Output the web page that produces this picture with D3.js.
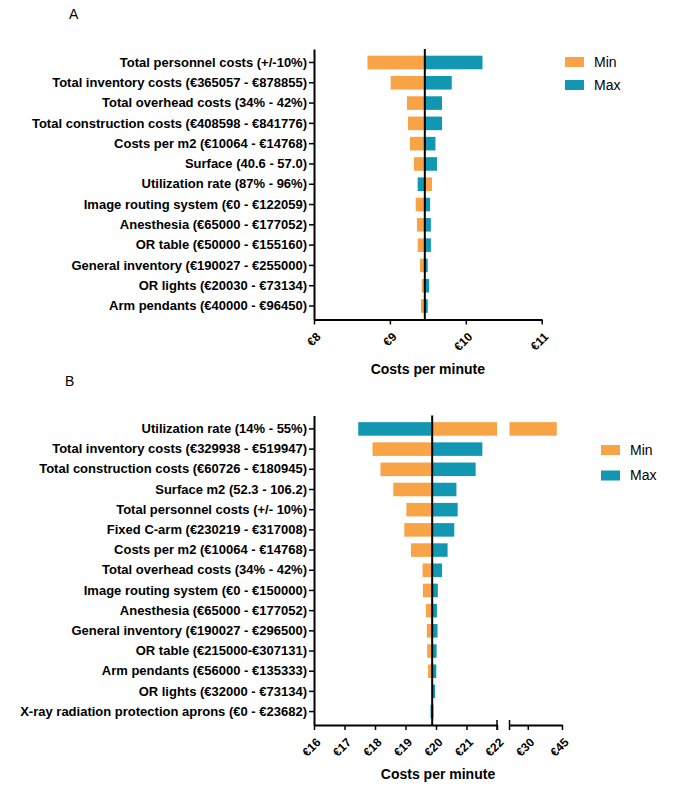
<!DOCTYPE html>
<html lang="en">
<head>
    <meta charset="UTF-8">
    <title>Tornado</title>
    <script src="https://cdn.jsdelivr.net/npm/d3@7"></script>
    <style>
        body{ margin:0; background:#fff; }
        svg{ font-family: "Liberation Sans", Arial, sans-serif; }
        .rowlab{ font-size:13px; font-weight:bold; }
        .ticklab{ font-size:12px; font-weight:bold; }
        .axtitle{ font-size:14px; font-weight:bold; }
        .leg{ font-size:14px; }
    </style>
</head>
<body>
<svg id="main-svg" width="677" height="788"></svg>
<script>
    // ---- data, panel A ----
    const labelsA = [
        'Total personnel costs (+/-10%)',
        'Total inventory costs (€365057 - €878855)',
        'Total overhead costs (34% - 42%)',
        'Total construction costs (€408598 - €841776)',
        'Costs per m2 (€10064 - €14768)',
        'Surface (40.6 - 57.0)',
        'Utilization rate (87% - 96%)',
        'Image routing system (€0 - €122059)',
        'Anesthesia (€65000 - €177052)',
        'OR table (€50000 - €155160)',
        'General inventory (€190027 - €255000)',
        'OR lights (€20030 - €73134)',
        'Arm pendants (€40000 - €96450)'
    ];
    const minA = [8.705, 9.01, 9.225, 9.238, 9.264, 9.317, 9.555, 9.34, 9.357, 9.366, 9.396, 9.42, 9.41];
    const maxA = [10.22, 9.815, 9.687, 9.687, 9.60, 9.62, 9.366, 9.53, 9.54, 9.54, 9.498, 9.515, 9.498];
    const baseA = 9.46;
    const ticksA = [8, 9, 10, 11];

    // ---- data, panel B ----
    const labelsB = [
        'Utilization rate (14% - 55%)',
        'Total inventory costs (€329938 - €519947)',
        'Total construction costs (€60726 - €180945)',
        'Surface m2 (52.3 - 106.2)',
        'Total personnel costs (+/- 10%)',
        'Fixed C-arm (€230219 - €317008)',
        'Costs per m2 (€10064 - €14768)',
        'Total overhead costs (34% - 42%)',
        'Image routing system (€0 - €150000)',
        'Anesthesia (€65000 - €177052)',
        'General inventory (€190027 - €296500)',
        'OR table (€215000-€307131)',
        'Arm pendants (€56000 - €135333)',
        'OR lights (€32000 - €73134)',
        'X-ray radiation protection aprons (€0 - €23682)'
    ];
    const minB = [42.7, 17.92, 18.18, 18.6, 19.03, 18.96, 19.18, 19.56, 19.57, 19.67, 19.70, 19.71, 19.74, 19.86, 19.93];
    const maxB = [17.45, 21.52, 21.30, 20.67, 20.71, 20.60, 20.38, 20.20, 20.06, 20.03, 20.05, 20.02, 20.01, 19.97, 19.82];
    const baseB = 19.875;
    const ticksB1 = [16, 17, 18, 19, 20, 21, 22];
    const ticksB2 = [30, 45];

    const seriesNames = ['Min', 'Max'];
    const colors = {Min: '#F7A346', Max: '#1197B1'};

    const svg = d3.select('#main-svg');
    const left = 314;

    // draws bars between base and value, splitting over axis break if needed
    let drawBar = (g, segs, y, row, base, v, color) => {
        segs.forEach(s => {
            let d = s.domain();
            let a = Math.max(Math.min(base, v), d[0]);
            let b = Math.min(Math.max(base, v), d[1]);
            if(b <= a) return;
            g.append('rect')
                .attr('x', s(a))
                .attr('y', y(row))
                .attr('width', s(b) - s(a))
                .attr('height', y.bandwidth())
                .style('fill', color);
        });
    };

    let drawPanel = (cfg) => {
        const g = svg.append('g');
        const y = d3.scaleBand()
            .domain(cfg.labels)
            .range([cfg.top, cfg.bottom])
            .paddingInner(0.33)
            .paddingOuter(0.33);

        cfg.labels.forEach((lab, i) => {
            drawBar(g, cfg.segs, y, lab, cfg.base, cfg.mins[i], colors.Min);
            drawBar(g, cfg.segs, y, lab, cfg.base, cfg.maxs[i], colors.Max);
        });

        // baseline
        g.append('line')
            .attr('x1', cfg.segs[0](cfg.base)).attr('x2', cfg.segs[0](cfg.base))
            .attr('y1', cfg.top).attr('y2', cfg.bottom)
            .style('stroke', '#000').style('stroke-width', 2);

        // y axis
        const yAx = g.append('g')
            .attr('transform', 'translate(' + left + ',0)')
            .call(d3.axisLeft(y).tickSize(5).tickPadding(2).tickSizeOuter(0));
        yAx.select('.domain').style('stroke-width', 2);
        yAx.selectAll('.tick line').style('stroke-width', 1.5);
        yAx.selectAll('text').attr('class', 'rowlab').attr('fill', '#000');

        // x axis, one piece per segment
        cfg.segs.forEach((s, k) => {
            const ax = g.append('g')
                .attr('transform', 'translate(0,' + cfg.bottom + ')')
                .call(d3.axisBottom(s).tickValues(cfg.ticks[k]).tickSize(5).tickSizeOuter(0)
                    .tickFormat(d => '€' + d));
            ax.select('.domain').style('stroke-width', 2);
            ax.selectAll('.tick line').style('stroke-width', 1.5);
            ax.selectAll('text')
                .attr('class', 'ticklab')
                .attr('fill', '#000')
                .attr('text-anchor', 'end')
                .attr('x', 0).attr('y', 0).attr('dy', '0.35em')
                .attr('transform', 'translate(4,15) rotate(-45)');
        });
        // break marks
        if(cfg.segs.length > 1){
            [cfg.segs[0].range()[1], cfg.segs[1].range()[0]].forEach(bx => {
                g.append('line')
                    .attr('x1', bx).attr('x2', bx)
                    .attr('y1', cfg.bottom - 5).attr('y2', cfg.bottom + 5)
                    .style('stroke', '#000').style('stroke-width', 1.5);
            });
        }

        const r0 = cfg.segs[0].range()[0], r1 = cfg.segs[cfg.segs.length - 1].range()[1];
        g.append('text')
            .attr('class', 'axtitle')
            .attr('x', (r0 + r1) / 2).attr('y', cfg.bottom + 54)
            .attr('text-anchor', 'middle')
            .text('Costs per minute');

        g.append('text')
            .attr('x', cfg.titleX).attr('y', cfg.titleY)
            .style('font-size', '14px')
            .text(cfg.title);

        // legend
        seriesNames.forEach((n, i) => {
            let cy = cfg.legY + i * cfg.legGap;
            g.append('rect')
                .attr('x', cfg.legX).attr('y', cy - 5)
                .attr('width', 19).attr('height', 10)
                .style('fill', colors[n]);
            g.append('text')
                .attr('class', 'leg')
                .attr('x', cfg.legX + 29).attr('y', cy)
                .attr('dy', '0.35em')
                .text(n);
        });
    };

    drawPanel({
        labels: labelsA, mins: minA, maxs: maxA, base: baseA,
        top: 49, bottom: 319.5,
        segs: [d3.scaleLinear().domain([8, 11]).range([left, 541.7])],
        ticks: [ticksA],
        title: 'A', titleX: 69, titleY: 19,
        legX: 565, legY: 62, legGap: 23
    });

    drawPanel({
        labels: labelsB, mins: minB, maxs: maxB, base: baseB,
        top: 415.5, bottom: 725,
        segs: [
            d3.scaleLinear().domain([16, 22]).range([left, 497]),
            d3.scaleLinear().domain([22, 45]).range([509.5, 562])
        ],
        ticks: [ticksB1, ticksB2],
        title: 'B', titleX: 65, titleY: 386,
        legX: 601, legY: 450, legGap: 25.5
    });
</script>
</body>
</html>
